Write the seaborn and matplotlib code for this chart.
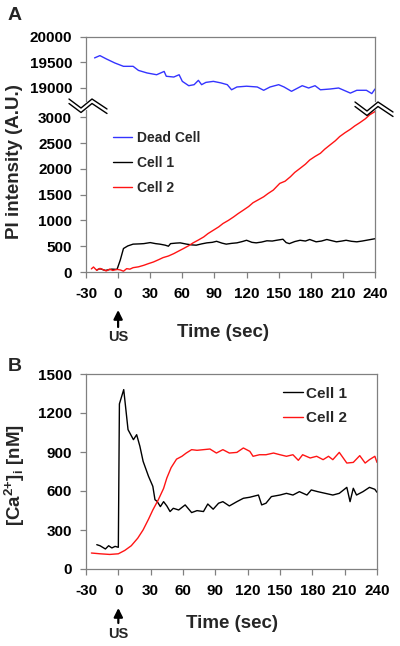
import numpy as np
import pandas as pd
import seaborn as sns
import matplotlib.pyplot as plt
from matplotlib.lines import Line2D

# ---- panel A: PI intensity (A.U.) ----
dead_t = [-22, -17, -11, -3, 5, 14, 19, 27, 36, 43, 45, 52, 57, 60, 66, 71, 75, 78, 82,
          89, 96, 102, 106, 111, 120, 130, 136, 142, 150, 155, 162, 172, 178, 184, 189,
          198, 206, 217, 223, 232, 237, 240]
dead_pi = [19590, 19635, 19570, 19490, 19425, 19425, 19345, 19295, 19260, 19325, 19230,
           19215, 19260, 19130, 19045, 19065, 19150, 19065, 19110, 19130, 19100, 19065,
           18965, 19020, 19035, 19020, 18955, 19020, 19065, 19020, 18935, 19045, 19000,
           19045, 18965, 18980, 19000, 18900, 18955, 18955, 18890, 18980]

cell1_t = [-20, -17, -12, -6, -1, 2, 5, 9, 14, 20, 24, 30, 35, 39, 44, 47, 49, 54, 58, 64,
           69, 73, 78, 83, 88, 92, 97, 101, 106, 111, 116, 120, 125, 129, 134, 139, 144,
           148, 154, 157, 160, 165, 170, 175, 179, 185, 190, 195, 200, 204, 209, 213, 218,
           223, 228, 232, 236, 240]
cell1_pi = [40, 65, 30, 55, 50, 230, 455, 505, 540, 545, 550, 570, 550, 540, 520, 500, 550,
            560, 565, 540, 525, 520, 545, 565, 575, 595, 560, 540, 555, 565, 590, 615, 575,
            565, 580, 605, 600, 615, 635, 570, 550, 590, 615, 600, 630, 585, 600, 630, 605,
            585, 600, 615, 595, 585, 600, 615, 630, 645]

cell2_t = [-25, -23, -20, -17, -14, -11, -8, -5, -1, 2, 5, 8, 11, 14, 19, 24, 28, 33, 38,
           42, 47, 52, 56, 61, 66, 70, 75, 80, 84, 89, 94, 98, 103, 108, 112, 117, 122,
           126, 131, 136, 140, 145, 151, 156, 161, 165, 170, 175, 179, 184, 189, 193, 198,
           203, 207, 212, 217, 221, 226, 231, 235, 240]
cell2_pi = [60, 97, 32, 70, 45, 20, 55, 30, 50, 40, 15, 65, 55, 84, 100, 130, 160, 194, 240,
            279, 310, 356, 400, 454, 510, 564, 620, 680, 745, 810, 875, 940, 1000, 1069,
            1130, 1199, 1270, 1342, 1400, 1458, 1520, 1588, 1717, 1760, 1847, 1930, 2009,
            2090, 2171, 2240, 2301, 2380, 2463, 2545, 2625, 2700, 2767, 2830, 2897, 2970,
            3046, 3110]

# ---- panel B: [Ca2+]i (nM) ----
ca1_t = [-20, -17, -12, -9, -6, -3, 0, 1, 5, 9, 14, 17, 20, 23, 28, 32, 34, 36, 39, 42, 45,
         48, 51, 56, 62, 68, 73, 79, 83, 88, 93, 97, 103, 110, 116, 122, 130, 133, 137, 142,
         150, 156, 162, 168, 175, 179, 185, 192, 199, 205, 212, 215, 218, 221, 227, 233,
         238, 240]
ca1 = [187, 179, 154, 179, 162, 174, 167, 1270, 1380, 1072, 995, 1033, 944, 828, 713, 636,
       533, 520, 480, 518, 485, 442, 467, 454, 493, 434, 449, 442, 500, 460, 506, 518, 485,
       518, 544, 552, 569, 493, 506, 557, 569, 582, 569, 595, 569, 608, 595, 582, 569, 582,
       628, 518, 621, 569, 595, 628, 613, 590]

ca2_t = [-25, -17, -8, 0, 6, 12, 18, 23, 28, 32, 37, 42, 45, 49, 54, 59, 63, 68, 73, 79, 85,
         91, 97, 103, 110, 116, 122, 125, 131, 137, 144, 150, 156, 162, 167, 171, 178, 184,
         190, 195, 199, 205, 212, 218, 224, 229, 233, 238, 240]
ca2 = [123, 117, 112, 117, 143, 179, 237, 301, 383, 454, 531, 620, 700, 780, 845, 867, 892,
       918, 913, 918, 923, 892, 918, 892, 897, 931, 905, 867, 879, 879, 892, 879, 867, 879,
       836, 879, 854, 867, 841, 867, 841, 897, 815, 820, 872, 815, 841, 867, 820]

time_ticks = list(range(-30, 241, 30))

pi_df = pd.concat([
    pd.DataFrame({"time": dead_t, "value": dead_pi, "cell": "Dead Cell"}),
    pd.DataFrame({"time": cell1_t, "value": cell1_pi, "cell": "Cell 1"}),
    pd.DataFrame({"time": cell2_t, "value": cell2_pi, "cell": "Cell 2"}),
], ignore_index=True)
ca_df = pd.concat([
    pd.DataFrame({"time": ca1_t, "value": ca1, "cell": "Cell 1"}),
    pd.DataFrame({"time": ca2_t, "value": ca2, "cell": "Cell 2"}),
], ignore_index=True)

sns.set_style("ticks")
plt.rcParams["font.family"] = ["Liberation Sans", "DejaVu Sans"]
plt.rcParams["font.weight"] = "bold"
plt.rcParams["axes.unicode_minus"] = False
plt.rcParams["mathtext.fontset"] = "custom"
plt.rcParams["mathtext.rm"] = "Liberation Sans:bold"
plt.rcParams["mathtext.it"] = "Liberation Sans:bold"
plt.rcParams["mathtext.bf"] = "Liberation Sans:bold"
plt.rcParams["mathtext.default"] = "rm"

GRAY = "#808080"
palette = {"Dead Cell": "#3434ff", "Cell 1": "black", "Cell 2": "#ff1414"}

W, H = 400, 646
fig = plt.figure(figsize=(W / 100, H / 100), dpi=100)


def px(x0, y0, w, h):
    return [x0 / W, 1 - (y0 + h) / H, w / W, h / H]


ax_top = fig.add_axes(px(86, 37, 289, 64))
ax_bot = fig.add_axes(px(86, 110, 289, 162))
ax_b = fig.add_axes(px(86, 374, 291, 195))

for ax in (ax_top, ax_bot, ax_b):
    for s in ax.spines.values():
        s.set_color(GRAY)
        s.set_linewidth(0.9)
    ax.tick_params(direction="out", length=4, width=0.9, color=GRAY,
                   labelsize=11, labelcolor="black")
    ax.tick_params(axis="x", pad=7)
    ax.tick_params(axis="y", pad=6)

for ax, leg in ((ax_top, False), (ax_bot, True)):
    sns.lineplot(data=pi_df, x="time", y="value", hue="cell",
                 hue_order=["Dead Cell", "Cell 1", "Cell 2"], palette=palette,
                 estimator=None, sort=False, linewidth=1, ax=ax, legend=leg)
    ax.set_xlim(-30, 240)
    ax.set_xlabel("")
    ax.set_ylabel("")

ax_top.set_ylim(18745, 20000)
ax_top.set_yticks([19000, 19500, 20000])
ax_top.spines["bottom"].set_visible(False)
ax_top.tick_params(axis="x", bottom=False, labelbottom=False)

ax_bot.set_ylim(0, 3140)
ax_bot.set_yticks(range(0, 3001, 500))
ax_bot.set_xticks(time_ticks)
ax_bot.spines["top"].set_visible(False)
ax_bot.set_xlabel("Time (sec)", fontsize=13.5, fontweight="bold")
ax_bot.xaxis.set_label_coords(0.474, -0.32)

old = ax_bot.get_legend()
handles = old.legend_handles
labels = [t.get_text() for t in old.get_texts()]
ax_bot.legend(handles, labels, loc="center left", bbox_to_anchor=(0.0934, 0.673),
              frameon=False, prop={"size": 10, "weight": "bold"}, labelspacing=0.8,
              handlelength=1.4, handletextpad=0.3, borderpad=0, borderaxespad=0)

sns.lineplot(data=ca_df, x="time", y="value", hue="cell", hue_order=["Cell 1", "Cell 2"],
             palette=palette, estimator=None, sort=False, linewidth=1, ax=ax_b)
ax_b.set_xlim(-30, 240)
ax_b.set_ylim(0, 1500)
ax_b.set_yticks(range(0, 1501, 300))
ax_b.set_xticks(time_ticks)
ax_b.set_ylabel("")
ax_b.set_xlabel("Time (sec)", fontsize=13.5, fontweight="bold")
ax_b.xaxis.set_label_coords(0.50, -0.235)
old = ax_b.get_legend()
handles = old.legend_handles
labels = [t.get_text() for t in old.get_texts()]
ax_b.legend(handles, labels, loc="center left", bbox_to_anchor=(0.677, 0.836),
            frameon=False, prop={"size": 11, "weight": "bold"}, labelspacing=0.7,
            handlelength=1.3, handletextpad=0.2, borderpad=0, borderaxespad=0)

# "US" stimulus arrows under t = 0
for ax, tip, tail, txt in ((ax_bot, -0.2346, -0.3395, -0.401), (ax_b, -0.2, -0.277, -0.333)):
    tr = ax.get_xaxis_transform()
    ax.annotate("", xy=(0, tip), xytext=(0, tail), xycoords=tr, textcoords=tr,
                annotation_clip=False,
                arrowprops=dict(arrowstyle="-|>", color="black", lw=1.6,
                                mutation_scale=13, shrinkA=0, shrinkB=0))
    ax.text(0, txt, "US", transform=tr, ha="center", va="center",
            fontsize=10.5, fontweight="bold")

# axis break marks
for x0, y0 in ((69, 99), (355, 102)):
    for dy in (0, 4.5):
        xs = [x0, x0 + 12, x0 + 23, x0 + 38]
        ys = [y0 + dy, y0 + 9 + dy, y0 + dy, y0 + 10 + dy]
        fig.add_artist(Line2D([x / W for x in xs], [1 - y / H for y in ys],
                              color="black", lw=1))

fig.text(15 / W, 1 - 162 / H, "PI intensity (A.U.)", rotation=90, ha="center",
         va="center", fontsize=13.5, fontweight="bold")
fig.text(15 / W, 1 - 475 / H, r"[Ca$^{2{+}}$]$_{i}$ [nM]", rotation=90, ha="center",
         va="center", fontsize=13.5, fontweight="bold")
fig.text(8 / W, 1 - 7 / H, "A", ha="left", va="top", fontsize=14, fontweight="bold")
fig.text(8 / W, 1 - 358 / H, "B", ha="left", va="top", fontsize=14, fontweight="bold")

fig.savefig("out.png", dpi=100)
